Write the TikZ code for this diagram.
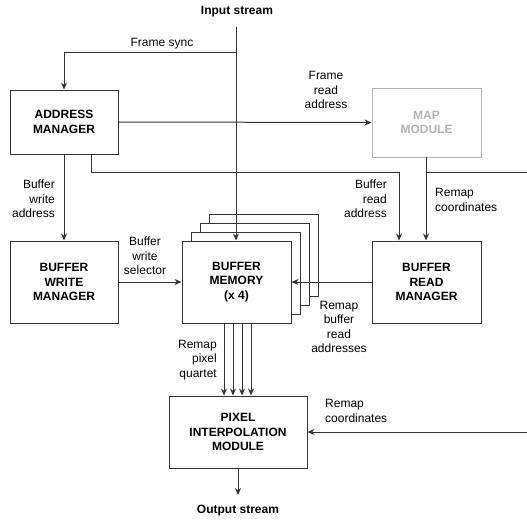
\documentclass[tikz,border=0pt]{standalone}
\usepackage{fontspec}
\setmainfont{Liberation Sans}
\usetikzlibrary{arrows.meta,calc}
\definecolor{ln}{HTML}{333333}
\definecolor{gr}{HTML}{B3B3B3}
\tikzset{
  blk/.style={draw=ln, line width=1pt, fill=white, font=\fontsize{12}{14.5}\selectfont\bfseries, align=center, inner sep=0pt},
  lbl/.style={font=\fontsize{12}{14.5}\selectfont, inner sep=0pt},
  conn/.style={draw=ln, line width=1pt},
  arr/.style={conn, -{Stealth[length=7pt,width=6pt]}},
}
\begin{document}
\begin{tikzpicture}[x=1pt,y=-1pt]
\useasboundingbox (0,0) rectangle (527,519);
% back layers of buffer memory
\foreach \k in {3,2,1}{
  \draw[draw=ln, line width=1pt, fill=white] ($(182,241)+(9*\k,-9*\k)$) rectangle ($(291,323)+(9*\k,-9*\k)$);
}
\node[blk, minimum width=108pt, minimum height=64pt] (am) at (64,122) {ADDRESS\\MANAGER};
\node[blk, draw=gr, text=gr, minimum width=109pt, minimum height=69pt] (map) at (426.5,122.5) {MAP\\MODULE};
\node[blk, minimum width=108pt, minimum height=82pt] (bwm) at (64,282) {BUFFER\\WRITE\\MANAGER};
\node[blk, minimum width=109pt, minimum height=82pt] (bm) at (236.5,282) {BUFFER\\MEMORY\\(x 4)};
\node[blk, minimum width=109pt, minimum height=82pt] (brm) at (426.5,282) {BUFFER\\READ\\MANAGER};
\node[blk, minimum width=138pt, minimum height=72pt] (pim) at (238,432) {PIXEL\\INTERPOLATION\\MODULE};

\node[lbl, font=\fontsize{12}{14.5}\selectfont\bfseries] (in) at (237,12) {Input stream};
\node[lbl, font=\fontsize{12}{14.5}\selectfont\bfseries] (out) at (238,511) {Output stream};

\coordinate (intop) at (236,27);
\coordinate (fs) at (236,53);
\coordinate (outend) at (238,495);
\coordinate (redge1) at (527,172);
\coordinate (redge2) at (527,432);
\coordinate (amb1) at (91,154);
\coordinate (turn1) at (91,172);
\coordinate (turn2) at (399,172);
\coordinate (mapb) at (426,157);
\coordinate (mapj) at (426,172);

% input stream into memory
\draw[arr] (intop) -- (bm.north -| intop);
% frame sync
\draw[arr] (fs) -| (am.north);
\node[lbl] (lfs) at (162,44) {Frame sync};
% frame read address
\draw[arr] (am.east) -- (map.west);
\node[lbl, align=center] (lfra) at (326,90) {Frame\\read\\address};
% buffer read address
\draw[arr] (amb1) -- (turn1) -- (turn2) -- (brm.north -| turn2);
\node[lbl, align=right, anchor=east] (lbra) at (387,199) {Buffer\\read\\address};
% remap coordinates from map
\draw[arr] (mapb) -- (brm.north -| mapb);
\draw[conn] (mapj) -- (redge1);
\node[lbl, align=left, anchor=west] (lrc1) at (435,200) {Remap\\coordinates};
% buffer write address
\draw[arr] (am.south) -- (bwm.north);
\node[lbl, align=right, anchor=east] (lbwa) at (55,199) {Buffer\\write\\address};
% buffer write selector
\draw[arr] (bwm.east) -- (bm.west);
\node[lbl, align=center] (lbws) at (145,256) {Buffer\\write\\selector};
% remap buffer read addresses
\draw[arr] (brm.west) -- (bm.east);
\node[lbl, align=center] (lrbra) at (339,327) {Remap\\buffer\\read\\addresses};
% pixel quartet
\foreach \xx in {224,233,242,251}{
  \draw[arr] (bm.south -| {(\xx,0)}) -- (pim.north -| {(\xx,0)});
}
\node[lbl, align=right, anchor=east] (lrpq) at (217,360) {Remap\\pixel\\quartet};
% remap coordinates to pim
\draw[arr] (redge2) -- (pim.east);
\node[lbl, align=left, anchor=west] (lrc2) at (325,411) {Remap\\coordinates};
% output
\draw[arr] (pim.south) -- (outend);
\end{tikzpicture}
\end{document}
